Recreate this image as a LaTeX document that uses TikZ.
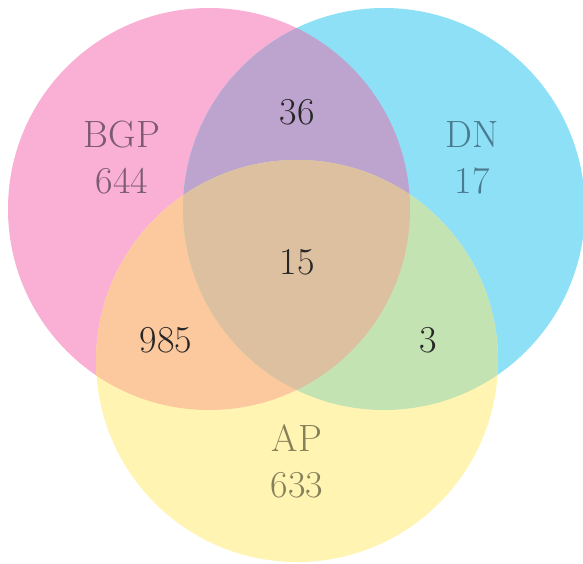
\documentclass[tikz,border=0pt]{standalone}
\usepackage{tikz}

\definecolor{bgpcol}{HTML}{FAAFD4}
\definecolor{dncol}{HTML}{8EE0F6}
\definecolor{apcol}{HTML}{FFF4B2}
\definecolor{bgpdncol}{HTML}{BDA4CF}
\definecolor{bgpapcol}{HTML}{FCC89E}
\definecolor{dnapcol}{HTML}{C4E3B3}
\definecolor{allcol}{HTML}{DCC0A0}
\definecolor{bgptext}{HTML}{7B5A72}
\definecolor{dntext}{HTML}{4A7C90}
\definecolor{aptext}{HTML}{86805A}

\begin{document}
\begin{tikzpicture}[x=0.5pt, y=-0.5pt, setlabel/.style = {font=\fontsize{19}{23}\selectfont, align=center, inner sep=0pt}, overlap/.style = {setlabel, text=black!85}]

    \useasboundingbox (0,0) rectangle (583,563);

    % set centres
    \coordinate (cbgp) at (209,209);
    \coordinate (cdn) at (384,209);
    \coordinate (cap) at (297,361);

    % circles
    \fill[bgpcol] (cbgp) circle[radius=201];
    \fill[dncol] (cdn) circle[radius=201];
    \fill[apcol] (cap) circle[radius=201];

    % overlaps
    \begin{scope}
        \clip (cbgp) circle[radius=201];
        \fill[bgpdncol] (cdn) circle[radius=201];
        \fill[bgpapcol] (cap) circle[radius=201];
    \end{scope}
    \begin{scope}
        \clip (cdn) circle[radius=201];
        \fill[dnapcol] (cap) circle[radius=201];
    \end{scope}
    \begin{scope}
        \clip (cbgp) circle[radius=201];
        \clip (cdn) circle[radius=201];
        \fill[allcol] (cap) circle[radius=201];
    \end{scope}

    % labels
    \node[setlabel, text=bgptext] (bgp) at (122,158) {BGP\\644};
    \node[setlabel, text=dntext] (dn) at (472,158) {DN\\17};
    \node[setlabel, text=aptext] (ap) at (297,461) {AP\\633};

    \node[overlap] (bgpdn) at (297,112) {36};
    \node[overlap] (all) at (297,262) {15};
    \node[overlap] (bgpap) at (166,340) {985};
    \node[overlap] (dnap) at (428,340) {3};

\end{tikzpicture}
\end{document}
